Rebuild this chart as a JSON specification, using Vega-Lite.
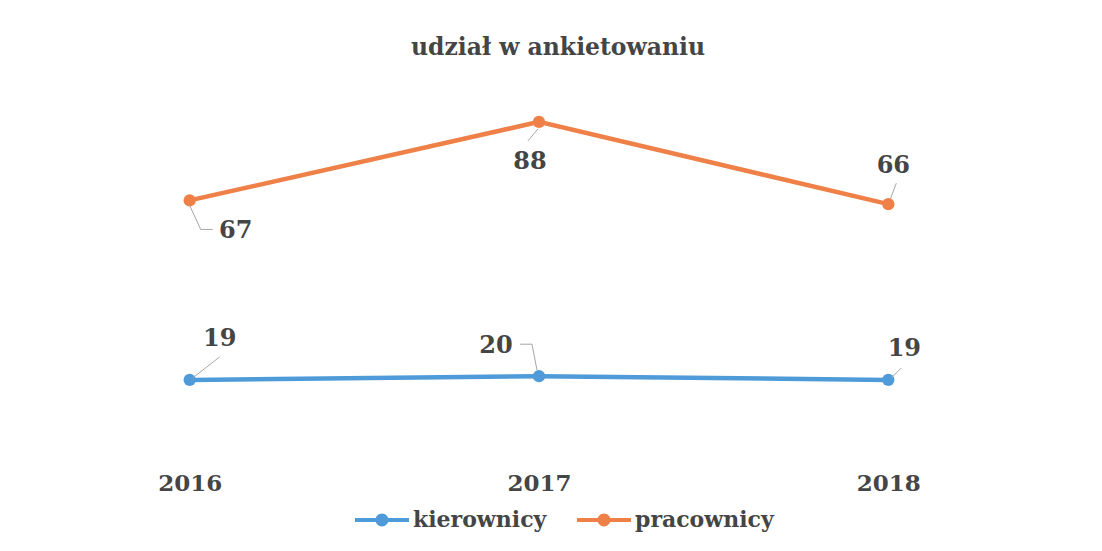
{
  "$schema": "https://vega.github.io/schema/vega-lite/v6.json",
  "width": 1048,
  "height": 374,
  "autosize": {"type": "none"},
  "padding": {"left": 15, "top": 77, "right": 39, "bottom": 100},
  "background": "white",
  "title": {
    "text": "udział w ankietowaniu",
    "font": "DejaVu Serif",
    "fontWeight": "bold",
    "fontSize": 23.5,
    "color": "#454545",
    "anchor": "middle",
    "dx": 19,
    "baseline": "alphabetic",
    "offset": -1
  },
  "data": {
    "values": [
      {"year": "2016", "series": "kierownicy", "value": 19},
      {"year": "2017", "series": "kierownicy", "value": 20},
      {"year": "2018", "series": "kierownicy", "value": 19},
      {"year": "2016", "series": "pracownicy", "value": 67},
      {"year": "2017", "series": "pracownicy", "value": 88},
      {"year": "2018", "series": "pracownicy", "value": 66}
    ]
  },
  "encoding": {
    "x": {
      "field": "year",
      "type": "ordinal",
      "scale": {"type": "point", "padding": 0.5},
      "axis": {
        "title": null,
        "labelAngle": 0,
        "domain": false,
        "ticks": false,
        "grid": false,
        "labelFont": "DejaVu Serif",
        "labelFontWeight": "bold",
        "labelFontSize": 23,
        "labelColor": "#454545",
        "labelPadding": 21
      }
    },
    "y": {
      "field": "value",
      "type": "quantitative",
      "scale": {"domain": [0, 100], "nice": false, "zero": true},
      "axis": null
    }
  },
  "layer": [
    {
      "mark": {"type": "line", "strokeWidth": 4.5},
      "encoding": {
        "color": {
          "field": "series",
          "type": "nominal",
          "scale": {"domain": ["kierownicy", "pracownicy"], "range": ["#4F9BD9", "#EF8048"]},
          "legend": {
            "title": null,
            "orient": "none",
            "direction": "horizontal",
            "legendX": 340,
            "legendY": 416,
            "symbolType": "M-1,-0.074H1V0.074H-1Z M0.24,0A0.24,0.24,0,1,1,-0.24,0A0.24,0.24,0,1,1,0.24,0Z",
            "symbolSize": 2916,
            "symbolStrokeWidth": 0,
            "labelFont": "DejaVu Serif",
            "labelFontWeight": "bold",
            "labelFontSize": 22,
            "labelColor": "#454545",
            "labelOffset": 4,
            "columnPadding": 30,
            "encode": {
              "symbols": {
                "update": {
                  "fill": {"scale": "color", "field": "value"},
                  "stroke": {"value": "transparent"},
                  "strokeWidth": {"value": 0},
                  "opacity": {"value": 1}
                }
              }
            }
          }
        }
      }
    },
    {
      "mark": {"type": "point", "filled": true, "size": 150, "opacity": 1},
      "encoding": {
        "color": {"field": "series", "type": "nominal", "legend": null}
      }
    },
    {
      "transform": [{"filter": "datum.year == '2016' && datum.series == 'pracownicy'"}],
      "layer": [
        {"mark": {"type": "rule", "color": "#a6a6a6", "strokeWidth": 1, "xOffset": 0, "yOffset": 5, "x2Offset": 11, "y2Offset": 29}, "encoding": {"x2": {"field": "year"}, "y2": {"field": "value"}}},
        {"mark": {"type": "rule", "color": "#a6a6a6", "strokeWidth": 1, "xOffset": 11, "yOffset": 29, "x2Offset": 23, "y2Offset": 29}, "encoding": {"x2": {"field": "year"}, "y2": {"field": "value"}}},
        {"mark": {"type": "text", "dx": 46, "dy": 31, "font": "DejaVu Serif", "fontWeight": "bold", "fontSize": 24, "color": "#454545", "align": "center", "baseline": "middle"}, "encoding": {"text": {"field": "value"}}}
      ]
    },
    {
      "transform": [{"filter": "datum.year == '2017' && datum.series == 'pracownicy'"}],
      "layer": [
        {"mark": {"type": "rule", "color": "#a6a6a6", "strokeWidth": 1, "xOffset": -1, "yOffset": 7, "x2Offset": -11, "y2Offset": 19}, "encoding": {"x2": {"field": "year"}, "y2": {"field": "value"}}},
        {"mark": {"type": "text", "dx": -9, "dy": 40, "font": "DejaVu Serif", "fontWeight": "bold", "fontSize": 24, "color": "#454545", "align": "center", "baseline": "middle"}, "encoding": {"text": {"field": "value"}}}
      ]
    },
    {
      "transform": [{"filter": "datum.year == '2018' && datum.series == 'pracownicy'"}],
      "layer": [
        {"mark": {"type": "rule", "color": "#a6a6a6", "strokeWidth": 1, "xOffset": 8, "yOffset": -21, "x2Offset": 2, "y2Offset": -5}, "encoding": {"x2": {"field": "year"}, "y2": {"field": "value"}}},
        {"mark": {"type": "text", "dx": 5, "dy": -38, "font": "DejaVu Serif", "fontWeight": "bold", "fontSize": 24, "color": "#454545", "align": "center", "baseline": "middle"}, "encoding": {"text": {"field": "value"}}}
      ]
    },
    {
      "transform": [{"filter": "datum.year == '2016' && datum.series == 'kierownicy'"}],
      "layer": [
        {"mark": {"type": "rule", "color": "#a6a6a6", "strokeWidth": 1, "xOffset": 30, "yOffset": -23, "x2Offset": 3, "y2Offset": -2}, "encoding": {"x2": {"field": "year"}, "y2": {"field": "value"}}},
        {"mark": {"type": "text", "dx": 30, "dy": -41, "font": "DejaVu Serif", "fontWeight": "bold", "fontSize": 24, "color": "#454545", "align": "center", "baseline": "middle"}, "encoding": {"text": {"field": "value"}}}
      ]
    },
    {
      "transform": [{"filter": "datum.year == '2017' && datum.series == 'kierownicy'"}],
      "layer": [
        {"mark": {"type": "rule", "color": "#a6a6a6", "strokeWidth": 1, "xOffset": -19, "yOffset": -32, "x2Offset": -7, "y2Offset": -32}, "encoding": {"x2": {"field": "year"}, "y2": {"field": "value"}}},
        {"mark": {"type": "rule", "color": "#a6a6a6", "strokeWidth": 1, "xOffset": -7, "yOffset": -32, "x2Offset": -2, "y2Offset": -6}, "encoding": {"x2": {"field": "year"}, "y2": {"field": "value"}}},
        {"mark": {"type": "text", "dx": -43, "dy": -30, "font": "DejaVu Serif", "fontWeight": "bold", "fontSize": 24, "color": "#454545", "align": "center", "baseline": "middle"}, "encoding": {"text": {"field": "value"}}}
      ]
    },
    {
      "transform": [{"filter": "datum.year == '2018' && datum.series == 'kierownicy'"}],
      "layer": [
        {"mark": {"type": "rule", "color": "#a6a6a6", "strokeWidth": 1, "xOffset": 13, "yOffset": -12, "x2Offset": 3, "y2Offset": -2}, "encoding": {"x2": {"field": "year"}, "y2": {"field": "value"}}},
        {"mark": {"type": "text", "dx": 16, "dy": -31, "font": "DejaVu Serif", "fontWeight": "bold", "fontSize": 24, "color": "#454545", "align": "center", "baseline": "middle"}, "encoding": {"text": {"field": "value"}}}
      ]
    }
  ],
  "config": {
    "view": {"stroke": null}
  }
}
